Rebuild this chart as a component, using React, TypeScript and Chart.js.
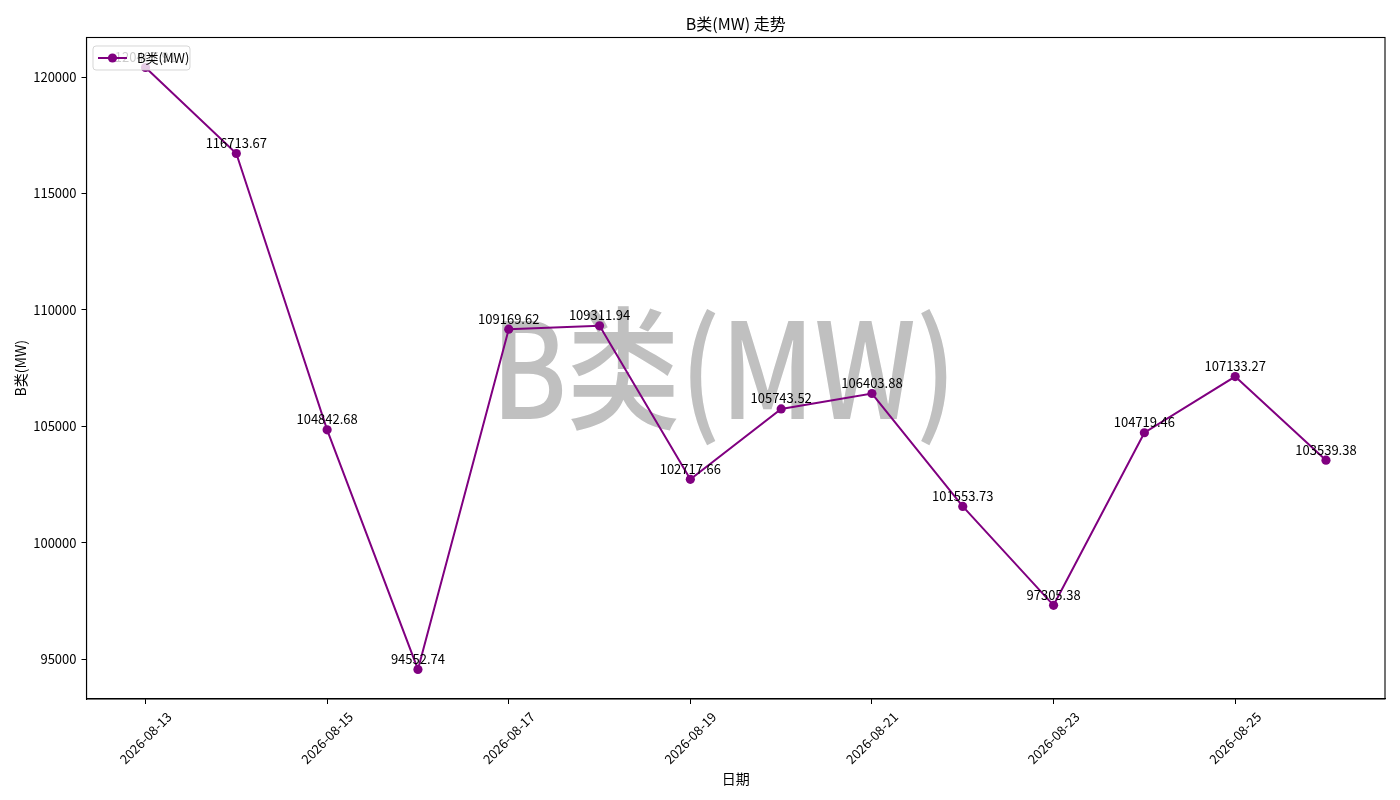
import React, { useEffect, useRef } from 'react';
import { Chart, registerables } from 'chart.js';

Chart.register(...registerables);

const dates = [
    '2026-08-13', '2026-08-14', '2026-08-15', '2026-08-16', '2026-08-17',
    '2026-08-18', '2026-08-19', '2026-08-20', '2026-08-21', '2026-08-22',
    '2026-08-23', '2026-08-24', '2026-08-25', '2026-08-26'
];

const values = [
    120407.91, 116713.67, 104842.68, 94552.74, 109169.62,
    109311.94, 102717.66, 105743.52, 106403.88, 101553.73,
    97305.38, 104719.46, 107133.27, 103539.38
];

const xTickIndexes = [0, 2, 4, 6, 8, 10, 12];
const yTicks = [95000, 100000, 105000, 110000, 115000, 120000];

const seriesName = 'B类(MW)';
const titleText = 'B类(MW) 走势';
const xTitle = '日期';
const yTitle = 'B类(MW)';

const FONT = '"Noto Sans CJK SC", "Noto Sans", sans-serif';
const LINE_COLOR = '#800080';

const overlayPlugin = {
    id: 'overlay',
    beforeDatasetsDraw(chart: any) {
        const { ctx, chartArea } = chart;
        // big grey watermark in the middle of the plot
        ctx.save();
        ctx.font = `500 133px ${FONT}`;
        ctx.fillStyle = 'rgb(192,192,192)';
        ctx.textAlign = 'center';
        ctx.textBaseline = 'middle';
        const w = ctx.measureText(seriesName).width;
        const sx = 465 / w;
        ctx.translate((chartArea.left + chartArea.right) / 2 - 12, (chartArea.top + chartArea.bottom) / 2);
        ctx.scale(sx, 1);
        ctx.fillText(seriesName, 0, 0);
        ctx.restore();
    },
    afterDatasetsDraw(chart: any) {
        const { ctx, chartArea, scales } = chart;
        const meta = chart.getDatasetMeta(0);

        // value labels above points
        ctx.save();
        ctx.font = `13px ${FONT}`;
        ctx.fillStyle = '#000';
        ctx.textAlign = 'center';
        ctx.textBaseline = 'bottom';
        meta.data.forEach((pt: any, i: number) => {
            ctx.fillText(values[i].toFixed(2), pt.x, pt.y - 4);
        });
        ctx.restore();

        // legend box, top left inside the axes
        ctx.save();
        const lx = chartArea.left + 6.5;
        const ly = chartArea.top + 8.5;
        ctx.fillStyle = 'rgba(255,255,255,0.8)';
        ctx.strokeStyle = 'rgba(204,204,204,0.8)';
        ctx.lineWidth = 1;
        ctx.beginPath();
        ctx.roundRect(lx, ly, 97, 24, 3);
        ctx.fill();
        ctx.stroke();
        ctx.strokeStyle = LINE_COLOR;
        ctx.lineWidth = 2;
        ctx.beginPath();
        ctx.moveTo(lx + 5, ly + 12);
        ctx.lineTo(lx + 34, ly + 12);
        ctx.stroke();
        ctx.fillStyle = LINE_COLOR;
        ctx.beginPath();
        ctx.arc(lx + 19.5, ly + 12, 4.6, 0, Math.PI * 2);
        ctx.fill();
        ctx.fillStyle = '#000';
        ctx.font = `13px ${FONT}`;
        ctx.textAlign = 'left';
        ctx.textBaseline = 'middle';
        ctx.fillText(seriesName, lx + 44, ly + 12);
        ctx.restore();

        // frame around the plot
        ctx.save();
        ctx.strokeStyle = '#000';
        ctx.lineWidth = 1.1;
        ctx.strokeRect(chartArea.left, chartArea.top, chartArea.right - chartArea.left, chartArea.bottom - chartArea.top);
        ctx.restore();

        // rotated date labels, centred under each tick
        ctx.save();
        ctx.font = `13px ${FONT}`;
        ctx.fillStyle = '#000';
        ctx.textAlign = 'center';
        ctx.textBaseline = 'middle';
        xTickIndexes.forEach((idx) => {
            const x = scales.x.getPixelForValue(idx);
            ctx.save();
            ctx.translate(x, chartArea.bottom + 39);
            ctx.rotate(-Math.PI / 4);
            ctx.fillText(dates[idx], 0, 0);
            ctx.restore();
        });
        ctx.restore();

        // title and axis titles
        ctx.save();
        ctx.fillStyle = '#000';
        ctx.textAlign = 'center';
        ctx.textBaseline = 'middle';
        ctx.font = `16px ${FONT}`;
        ctx.fillText(titleText, (chartArea.left + chartArea.right) / 2, 24);
        ctx.font = `14px ${FONT}`;
        ctx.fillText(xTitle, (chartArea.left + chartArea.right) / 2, 779);
        ctx.translate(21, (chartArea.top + chartArea.bottom) / 2);
        ctx.rotate(-Math.PI / 2);
        ctx.fillText(yTitle, 0, 0);
        ctx.restore();
    }
};

export default function App() {
    const canvasRef = useRef<HTMLCanvasElement>(null);

    useEffect(() => {
        const ctx = canvasRef.current?.getContext('2d');
        if (!ctx) return;

        const chart = new Chart(ctx, {
            type: 'line',
            data: {
                datasets: [{
                    label: seriesName,
                    data: values.map((v, i) => ({ x: i, y: v })),
                    borderColor: LINE_COLOR,
                    backgroundColor: LINE_COLOR,
                    borderWidth: 2,
                    pointRadius: 4.6,
                    pointBackgroundColor: LINE_COLOR,
                    pointBorderWidth: 0,
                    tension: 0,
                    fill: false
                }]
            },
            options: {
                animation: false,
                responsive: true,
                maintainAspectRatio: false,
                layout: { padding: { left: 0, top: 37.5, right: 15, bottom: 0 } },
                plugins: {
                    legend: { display: false },
                    title: { display: false },
                    tooltip: { enabled: false }
                },
                scales: {
                    x: {
                        type: 'linear',
                        min: -0.65,
                        max: 13.65,
                        afterBuildTicks: (scale: any) => {
                            scale.ticks = xTickIndexes.map((v) => ({ value: v }));
                        },
                        afterFit: (scale: any) => { scale.height = 101; },
                        ticks: { display: false },
                        grid: {
                            display: true,
                            drawOnChartArea: false,
                            drawTicks: true,
                            tickLength: 5,
                            color: '#000',
                            lineWidth: 1
                        },
                        border: { display: true, color: '#000', width: 1.1 }
                    },
                    y: {
                        type: 'linear',
                        min: 93282,
                        max: 121697,
                        afterBuildTicks: (scale: any) => {
                            scale.ticks = yTicks.map((v) => ({ value: v }));
                        },
                        afterFit: (scale: any) => { scale.width = 86.5; },
                        ticks: {
                            color: '#000',
                            font: { family: FONT, size: 13 },
                            padding: 5,
                            callback: (v: any) => String(v)
                        },
                        grid: {
                            display: true,
                            drawOnChartArea: false,
                            drawTicks: true,
                            tickLength: 5,
                            color: '#000',
                            lineWidth: 1
                        },
                        border: { display: true, color: '#000', width: 1.1 }
                    }
                }
            },
            plugins: [overlayPlugin]
        });

        return () => {
            chart.destroy();
        };
    }, []);

    return (
        <div style={{ position: 'fixed', left: 0, top: 0, width: '1400px', height: '800px', background: '#fff' }}>
            <canvas ref={canvasRef}></canvas>
        </div>
    );
}
